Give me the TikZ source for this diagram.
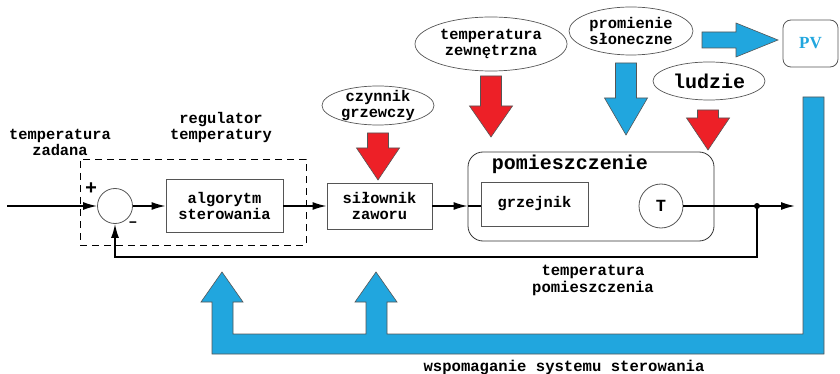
\documentclass[tikz,border=0pt]{standalone}
\usepackage{fontspec}
\setmainfont{Liberation Mono}
\newfontfamily\pvfont{Liberation Serif}
\usetikzlibrary{shapes.geometric,arrows.meta}
\definecolor{redA}{RGB}{237,32,39}
\definecolor{blueA}{RGB}{33,166,222}
\definecolor{edgeA}{RGB}{85,85,85}
\newcommand{\fA}{\fontsize{15.4}{16}\selectfont\bfseries}
\newcommand{\fB}{\fontsize{15.6}{17}\selectfont\bfseries}
\newcommand{\fC}{\fontsize{20}{22}\selectfont\bfseries}
% block arrow pointing down: x, top, head y, tip y, colour
\newcommand{\dnarr}[5]{%
  \filldraw[fill=#5,draw=edgeA,line width=0.6pt]
    ({#1-10.5},#2) -- ({#1+10.5},#2) -- ({#1+10.5},#3) -- ({#1+21.5},#3)
    -- (#1,#4) -- ({#1-21.5},#3) -- ({#1-10.5},#3) -- cycle;}
\begin{document}
\begin{tikzpicture}[x=1pt,y=-1pt,
  main/.style={line width=1.6pt,black},
  tip/.style={-{Latex[length=14pt,width=8pt]}},
  box/.style={draw=edgeA,line width=0.8pt,inner sep=0pt,align=center,font=\fA},
  ell/.style={draw=edgeA,line width=0.7pt,ellipse,inner sep=0pt},
  lbl/.style={align=center,inner sep=0pt,font=\fA}]
\useasboundingbox (0,0) rectangle (840,374);

% ---- blue support shapes
\filldraw[fill=blueA,draw=edgeA,line width=0.6pt]
  (222,272) -- (243,302) -- (233,302) -- (233,334) -- (366,334) -- (366,302)
  -- (355,302) -- (376,272) -- (397,302) -- (387,302) -- (387,334)
  -- (803,334) -- (803,97) -- (824,97) -- (824,354) -- (212,354)
  -- (212,302) -- (201,302) -- cycle;
\filldraw[fill=blueA,draw=edgeA,line width=0.6pt]
  (702,32) -- (736,32) -- (736,23) -- (778,40) -- (736,57) -- (736,48) -- (702,48) -- cycle;

% ---- disturbance arrows
\dnarr{378}{133}{148}{180}{redA}
\dnarr{491}{76}{106}{137}{redA}
\dnarr{626}{63}{98}{135}{blueA}
\dnarr{708}{110}{118}{150}{redA}

% ---- ellipses
\node[ell,minimum width=112,minimum height=39] (czy) at (378,105.5) {};
\node[lbl] (czyT) at (czy) {czynnik\\grzewczy};
\node[ell,minimum width=152,minimum height=54] (zew) at (491,44) {};
\node[lbl] (zewT) at (zew) {temperatura\\zewnętrzna};
\node[ell,minimum width=124,minimum height=48] (slo) at (631,31) {};
\node[lbl] (sloT) at (slo) {promienie\\słoneczne};
\node[ell,minimum width=112,minimum height=38] (lud) at (709,81) {};
\node[lbl,font=\fC] (ludT) at (lud) {ludzie};

% ---- PV
\node[draw=edgeA,line width=0.8pt,rounded corners=8pt,minimum width=55,minimum height=47,
  text=blueA,font=\pvfont\bfseries\fontsize{17}{18}\selectfont] (pv) at (810.5,43.5) {PV};

% ---- controller
\node[draw=black,line width=0.8pt,dashed,dash pattern=on 7pt off 5pt,
  minimum width=226,minimum height=86] (reg) at (193,202) {};
\node[lbl] (regT) at (221,128) {regulator\\temperatury};
\node[lbl] (zad) at (60,142) {temperatura\\zadana};
\node[draw=edgeA,line width=0.8pt,circle,minimum size=35,inner sep=0] (sum) at (115,206) {};
\node[lbl,font=\fC] (plus) at (91,189) {+};
\node[lbl,font=\fA] (minus) at (133,224) {–};
\node[box,minimum width=117,minimum height=53] (alg) at (224.5,206) {algorytm\\sterowania};
\node[box,minimum width=105,minimum height=46] (sil) at (379.5,206) {siłownik\\zaworu};

% ---- room
\node[draw=black!80,line width=0.8pt,rounded corners=15pt,minimum width=246,minimum height=89] (room) at (591,196.5) {};
\node[lbl,font=\fC] (roomT) at (570,164) {pomieszczenie};
\node[box,minimum width=107,minimum height=44] (grz) at (534.5,204) {grzejnik};
\node[draw=edgeA,line width=0.8pt,circle,minimum size=44,inner sep=0,font=\fontsize{17}{18}\selectfont\bfseries] (tt) at (661,206) {T};

% ---- signal lines
\coordinate (in) at (7,206);
\coordinate (out) at (795,206);
\coordinate (jn) at (757,206);
\coordinate (fb) at (757,257);
\coordinate (rin) at (room.west |- sil.east);
\draw[main,tip] (in) -- (sum.west);
\draw[main,tip] (sum.east) -- (alg.west);
\draw[main,tip] (alg.east) -- (sil.west);
\draw[main,tip] (sil.east) -- (rin);
\draw[main] (rin) -- (grz.west |- rin);
\draw[main,tip] (tt.east) -- (out);
\draw[main,tip] (jn) -- (fb) -| (sum.south);
\fill (jn) circle (3pt);

\node[lbl,font=\fB] (tpom) at (593,280) {temperatura\\pomieszczenia};
\node[lbl,font=\fB] (wsp) at (564,367) {wspomaganie systemu sterowania};
\end{tikzpicture}
\end{document}
